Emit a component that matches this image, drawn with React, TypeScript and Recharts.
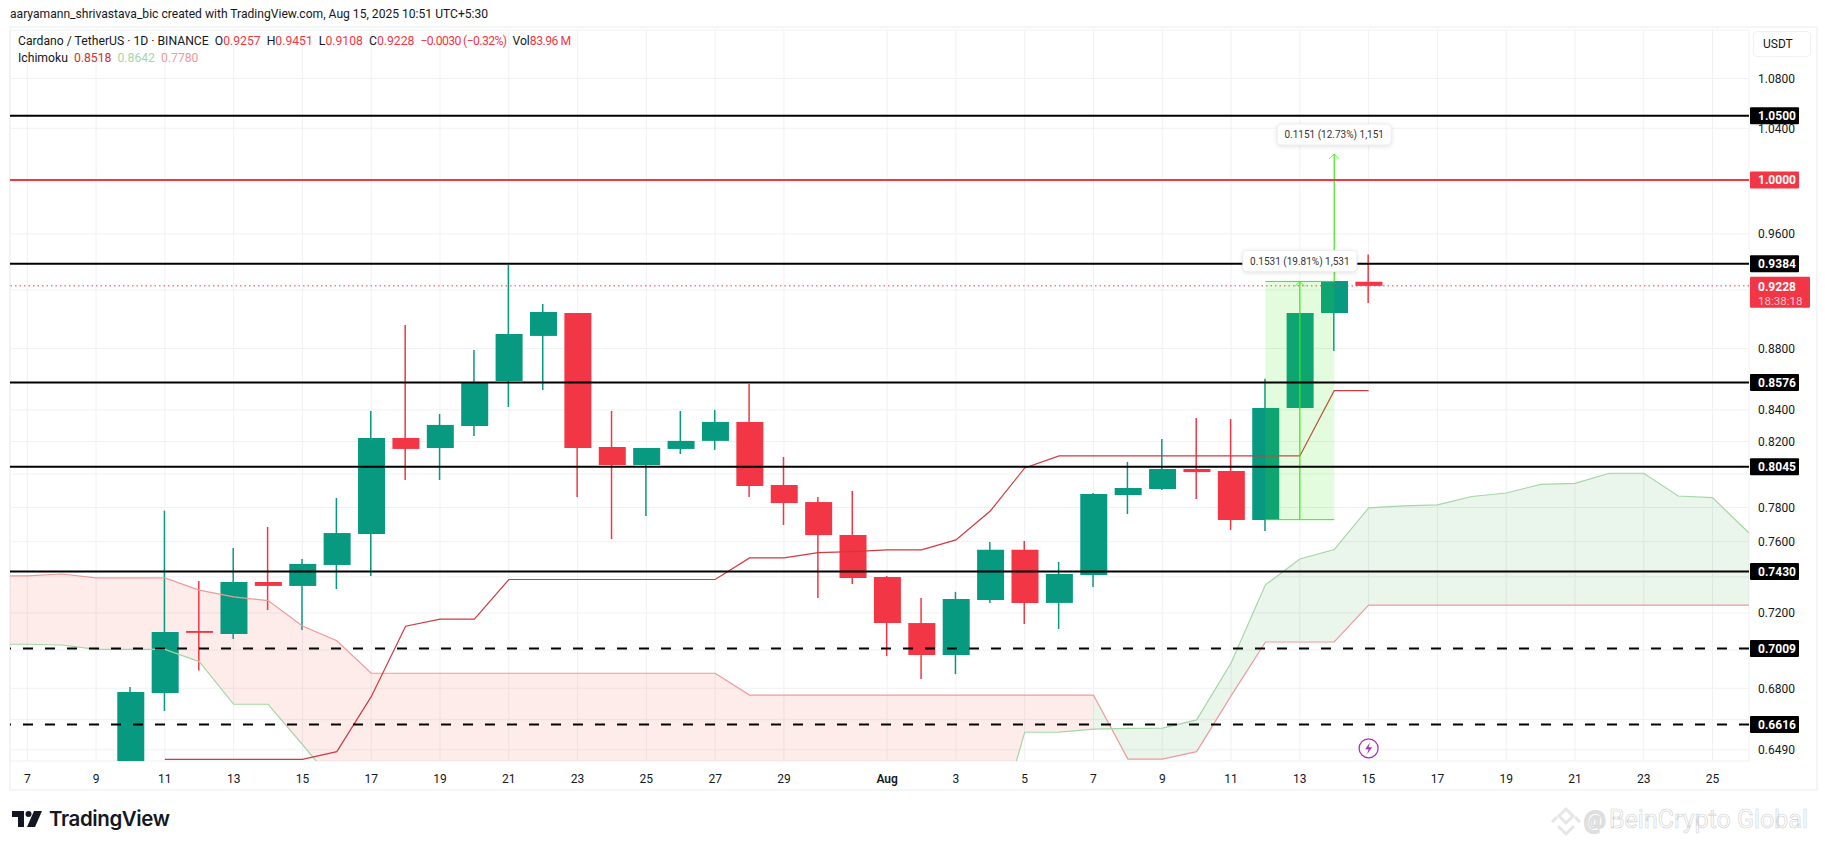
import React from "react";
import {
  ComposedChart, XAxis, YAxis, CartesianGrid, Bar, Line, Area, Cell,
  ReferenceLine, ReferenceDot,
} from "recharts";

const FONT = "Roboto, 'Noto Sans', sans-serif";
const GREEN = "#089981";
const RED = "#F23645";
const BRIGHT = "#3FE81A";

// day index, 0 = Jul 7
const days = [-1,0,1,2,3,4,5,6,7,8,9,10,11,12,13,14,15,16,17,18,19,20,21,22,23,24,25,26,27,28,29,30,31,32,33,34,35,36,37,38,39,40,41,42,43,44,45,46,47,48,49,50,51];
const candleDays = [3,4,5,6,7,8,9,10,11,12,13,14,15,16,17,18,19,20,21,22,23,24,25,26,27,28,29,30,31,32,33,34,35,36,37,38,39];
const opens  = [0.6400,0.6776,0.7102,0.7086,0.7371,0.7349,0.7467,0.7644,0.8222,0.8160,0.8297,0.8586,0.8884,0.9040,0.8166,0.8055,0.8154,0.8204,0.8323,0.7934,0.7832,0.7638,0.7399,0.7145,0.6974,0.7271,0.7553,0.7255,0.7410,0.7874,0.7910,0.8031,0.8019,0.7726,0.8411,0.9040,0.9257];
const closes = [0.6781,0.7097,0.7092,0.7371,0.7349,0.7473,0.7650,0.8222,0.8154,0.8304,0.8574,0.8897,0.9047,0.8160,0.8055,0.8160,0.8204,0.8323,0.7928,0.7826,0.7638,0.7394,0.7145,0.6974,0.7277,0.7553,0.7255,0.7416,0.7880,0.7916,0.8031,0.8012,0.7726,0.8411,0.9040,0.9262,0.9228];
const highs  = [0.6807,0.7781,0.7377,0.7564,0.7685,0.7501,0.7856,0.8392,0.8958,0.8373,0.8790,0.9375,0.9102,0.9040,0.8392,0.8104,0.8392,0.8399,0.8566,0.8104,0.7862,0.7898,0.7405,0.7282,0.7316,0.7598,0.7604,0.7484,0.7886,0.8074,0.8216,0.8348,0.8342,0.8600,0.9040,0.9262,0.9451];
const lows   = [0.6300,0.6684,0.6892,0.7059,0.7216,0.7108,0.7332,0.7405,0.7964,0.7964,0.8235,0.8418,0.8527,0.7862,0.7615,0.7750,0.8123,0.8148,0.7862,0.7697,0.7282,0.7360,0.6968,0.6848,0.6874,0.7255,0.7140,0.7113,0.7343,0.7761,0.7904,0.7850,0.7668,0.7662,0.8411,0.8783,0.9108];

const baseLineDays = [4,5,6,7,8,9,10,11,12,13,14,15,16,17,18,19,20,21,22,23,24,25,26,27,28,29,30,31,32,33,34,35,36,37,38,39];
const baseLine = [0.6443,0.6443,0.6443,0.6443,0.6443,0.6481,0.6757,0.7128,0.7166,0.7166,0.7385,0.7385,0.7385,0.7385,0.7385,0.7385,0.7385,0.7507,0.7507,0.7537,0.7543,0.7553,0.7553,0.7610,0.7779,0.8037,0.8111,0.8111,0.8111,0.8111,0.8111,0.8111,0.8111,0.8111,0.8523,0.8523];

// Leading spans, one value per entry of `days`
const spanA = [0.7031,0.7031,0.7027,0.7004,0.7004,0.7004,0.6939,0.6718,0.6718,0.6516,0.6314,0.6180,0.6100,0.6050,0.6006,0.6006,0.6006,0.6006,0.6006,0.6006,0.6006,0.6006,0.6006,0.6006,0.6006,0.6006,0.6006,0.6006,0.6006,0.6006,0.6577,0.6578,0.6593,0.6596,0.6598,0.6639,0.6932,0.7355,0.7501,0.7555,0.7797,0.7809,0.7815,0.7865,0.7886,0.7938,0.7944,0.8005,0.8005,0.7868,0.7858,0.7662,0.7495];
const spanB = [0.7405,0.7405,0.7416,0.7394,0.7394,0.7394,0.7326,0.7288,0.7268,0.7129,0.7050,0.6878,0.6878,0.6878,0.6878,0.6878,0.6878,0.6878,0.6878,0.6878,0.6878,0.6878,0.6765,0.6765,0.6765,0.6765,0.6765,0.6765,0.6765,0.6765,0.6765,0.6765,0.6765,0.6444,0.6444,0.6481,0.6761,0.7043,0.7043,0.7043,0.7243,0.7243,0.7243,0.7243,0.7243,0.7243,0.7243,0.7243,0.7243,0.7243,0.7243,0.7243,0.7243];
const cloudSwitchDay = 31;

const xTickDays = [0,2,4,6,8,10,12,14,16,18,20,22,25,27,29,31,33,35,37,39,41,43,45,47,49];
const xTickLabels = ["7","9","11","13","15","17","19","21","23","25","27","29","Aug","3","5","7","9","11","13","15","17","19","21","23","25"];
const yTicks = [1.08,1.04,1.0,0.96,0.92,0.88,0.84,0.82,0.8,0.78,0.76,0.74,0.72,0.7,0.68,0.664,0.649];
const hiddenTicks = [1.0,0.92,0.8,0.74,0.7,0.664];

const solidLevels = [1.05,0.9384,0.8576,0.8045,0.743];
const dashedLevels = [0.7009,0.6616];
const redLevel = 1.0;
const lastPrice = 0.9228;
const countdown = "18:38:18";

const measureBox = { from: 36, mid: 37, to: 38, low: 0.7728, high: 0.9259, label: "0.1531 (19.81%) 1,531" };
const measureUp = { at: 38, low: 0.9259, high: 1.0199, label: "0.1151 (12.73%) 1,151" };
const eventDay = 39;
const eventPrice = 0.6497;

const data = days.map((d, k) => {
  const c = candleDays.indexOf(d);
  const b = baseLineDays.indexOf(d);
  const a = spanA[k], s = spanB[k];
  return {
    d,
    wick: c >= 0 ? [lows[c], highs[c]] : null,
    body: c >= 0 ? [opens[c], closes[c]] : null,
    up: c >= 0 ? closes[c] >= opens[c] : false,
    base: b >= 0 ? baseLine[b] : null,
    spanA: a,
    spanB: s,
    redCloud: d <= cloudSwitchDay ? [a, s] : null,
    greenCloud: d >= cloudSwitchDay ? [s, a] : null,
  };
});
const candleData = data;

const Pill = (value: number, bg: string) => (props: any) => {
  const vb = props.viewBox;
  const x = vb.x + vb.width + 1;
  const y = vb.y;
  return (
    <g>
      <rect x={x} y={y - 8.5} width={49} height={17} fill={bg} rx={1} />
      <text x={x + 8} y={y + 4.5} fill="#fff" fontSize={12} fontWeight={700} fontFamily={FONT}>{value.toFixed(4)}</text>
    </g>
  );
};

const PricePill = (props: any) => {
  const vb = props.viewBox;
  const x = vb.x + vb.width + 1;
  const y = vb.y;
  return (
    <g>
      <rect x={x} y={y - 9} width={60} height={31} fill={RED} rx={1} />
      <text x={x + 8} y={y + 5} fill="#fff" fontSize={12} fontWeight={700} fontFamily={FONT}>{lastPrice.toFixed(4)}</text>
      <text x={x + 8} y={y + 19} fill="#fbc5cb" fontSize={11.5} fontFamily={FONT}>{countdown}</text>
    </g>
  );
};

const Chevron = (props: any) => (
  <path d={`M${props.cx - 5} ${props.cy + 5}L${props.cx} ${props.cy}L${props.cx + 5} ${props.cy + 5}`} fill="none" stroke={BRIGHT} strokeWidth={1} opacity={0.8} />
);

const BoxLabel = (text: string, w: number, dy: number) => (props: any) => (
  <g>
    <rect x={props.cx - w / 2} y={props.cy + dy} width={w} height={21} rx={4} fill="#fff" stroke="#eceef1" strokeWidth={1} style={{ filter: "drop-shadow(0 1px 2px rgba(0,0,0,.12))" }} />
    <text x={props.cx} y={props.cy + dy + 14.5} textAnchor="middle" fontSize={10} fill="#333" fontFamily={FONT}>{text}</text>
  </g>
);

const EventIcon = (props: any) => (
  <g>
    <circle cx={props.cx} cy={props.cy} r={9.5} fill="#fff" stroke="#AB30BB" strokeWidth={1.3} />
    <path d={`M${props.cx + 1.5} ${props.cy - 6}L${props.cx - 3.5} ${props.cy + 1}H${props.cx}L${props.cx - 1.5} ${props.cy + 6}L${props.cx + 3.5} ${props.cy - 1}H${props.cx}Z`} fill="#AB30BB" />
  </g>
);

const XTick = (props: any) => {
  const k = xTickDays.indexOf(props.payload.value);
  return (
    <text x={props.x} y={props.y + 14} textAnchor="middle" fontSize={12} fill="#131722" fontFamily={FONT} fontWeight={k === 12 ? 600 : 400}>{xTickLabels[k]}</text>
  );
};

const YTick = (props: any) => {
  if (hiddenTicks.includes(props.payload.value)) return <g />;
  return (
    <text x={1758} y={props.y + 4.5} fontSize={12} fill="#131722" fontFamily={FONT}>{props.payload.value.toFixed(4)}</text>
  );
};

const abs = (s: React.CSSProperties): React.CSSProperties => ({ position: "absolute", whiteSpace: "pre", fontFamily: FONT, ...s });

export default function App() {
  return (
    <div style={{ position: "absolute", left: 0, top: 0, width: 1825, height: 849, background: "#fff", overflow: "hidden" }}>
      <div style={abs({ left: 10, top: 7, fontSize: 12.1, color: "#131722" })}>aaryamann_shrivastava_bic created with TradingView.com, Aug 15, 2025 10:51 UTC+5:30</div>
      <div style={{ position: "absolute", left: 9, top: 26, width: 1805, height: 761, border: "2px solid #f4f5f7", boxSizing: "content-box" }} />
      <div style={{ position: "absolute", left: 0, top: 0 }}>
        <ComposedChart width={1825} height={849} data={candleData} margin={{ top: 30, left: 10, right: 16, bottom: 60 }}>
          <CartesianGrid stroke="#eff1f4" strokeWidth={1} xAxisId="a" yAxisId="p" />
          <XAxis xAxisId="a" dataKey="d" type="number" domain={[-0.503, 50.06]} allowDataOverflow ticks={xTickDays} interval={0} tick={<XTick />} axisLine={false} tickLine={false} height={28} />
          <XAxis xAxisId="b" dataKey="d" type="number" domain={[-0.503, 50.06]} allowDataOverflow hide />
          <YAxis yAxisId="p" orientation="right" scale="log" domain={[0.6435, 1.1205]} allowDataOverflow ticks={yTicks} interval={0} tick={<YTick />} axisLine={false} tickLine={false} width={60} />
          <Area xAxisId="a" yAxisId="p" dataKey="redCloud" stroke="none" fill="#f44336" fillOpacity={0.1} isAnimationActive={false} connectNulls={false} />
          <Area xAxisId="a" yAxisId="p" dataKey="greenCloud" stroke="none" fill="#43a047" fillOpacity={0.11} isAnimationActive={false} connectNulls={false} />
          <Line xAxisId="a" yAxisId="p" dataKey="spanB" stroke="#EF9A9A" strokeWidth={1.2} dot={false} isAnimationActive={false} />
          <Line xAxisId="a" yAxisId="p" dataKey="spanA" stroke="#A5D6A7" strokeWidth={1.2} dot={false} isAnimationActive={false} />
          <ReferenceLine xAxisId="a" yAxisId="p" y={lastPrice} stroke={RED} strokeWidth={1} strokeDasharray="1.5 3" label={<PricePill />} />
          <Bar xAxisId="a" yAxisId="p" dataKey="wick" barSize={1.5} isAnimationActive={false}>
            {candleData.map((r, k) => <Cell key={k} fill={r.up ? GREEN : RED} />)}
          </Bar>
          <Bar xAxisId="b" yAxisId="p" dataKey="body" barSize={27} isAnimationActive={false}>
            {candleData.map((r, k) => <Cell key={k} fill={r.up ? GREEN : RED} />)}
          </Bar>
          <Line xAxisId="a" yAxisId="p" dataKey="base" stroke="#CF3A3F" strokeWidth={1.2} dot={false} isAnimationActive={false} connectNulls={false} />
          <ReferenceLine xAxisId="a" yAxisId="p" segment={[{ x: measureBox.mid, y: measureBox.low }, { x: measureBox.mid, y: measureBox.high }]} stroke={BRIGHT} strokeOpacity={0.15} strokeWidth={69} />
          <ReferenceLine xAxisId="a" yAxisId="p" segment={[{ x: measureBox.from, y: measureBox.high }, { x: measureBox.to, y: measureBox.high }]} stroke={BRIGHT} strokeWidth={1} />
          <ReferenceLine xAxisId="a" yAxisId="p" segment={[{ x: measureBox.from, y: measureBox.low }, { x: measureBox.to, y: measureBox.low }]} stroke={BRIGHT} strokeWidth={1} />
          <ReferenceLine xAxisId="a" yAxisId="p" segment={[{ x: measureBox.mid, y: measureBox.low }, { x: measureBox.mid, y: measureBox.high }]} stroke={BRIGHT} strokeWidth={1.2} />
          <ReferenceLine xAxisId="a" yAxisId="p" segment={[{ x: measureUp.at, y: measureUp.low }, { x: measureUp.at, y: measureUp.high }]} stroke={BRIGHT} strokeWidth={1.2} />
          {solidLevels.map((v) => (
            <ReferenceLine key={v} xAxisId="a" yAxisId="p" y={v} stroke="#000" strokeWidth={2} label={Pill(v, "#000") as any} />
          ))}
          {dashedLevels.map((v) => (
            <ReferenceLine key={v} xAxisId="a" yAxisId="p" y={v} stroke="#000" strokeWidth={2} strokeDasharray="10 12" label={Pill(v, "#000") as any} />
          ))}
          <ReferenceLine xAxisId="a" yAxisId="p" y={redLevel} stroke={RED} strokeWidth={2} label={Pill(redLevel, RED) as any} />
          <ReferenceDot xAxisId="a" yAxisId="p" x={measureBox.mid} y={measureBox.high} shape={Chevron as any} />
          <ReferenceDot xAxisId="a" yAxisId="p" x={measureUp.at} y={measureUp.high} shape={Chevron as any} />
          <ReferenceDot xAxisId="a" yAxisId="p" x={measureUp.at} y={measureUp.high} shape={BoxLabel(measureUp.label, 114, -30) as any} />
          <ReferenceDot xAxisId="a" yAxisId="p" x={measureBox.mid} y={measureBox.high} shape={BoxLabel(measureBox.label, 114, -31) as any} />
          <ReferenceDot xAxisId="a" yAxisId="p" x={eventDay} y={eventPrice} shape={EventIcon as any} />
        </ComposedChart>
      </div>
      <div style={abs({ left: 18, top: 34, fontSize: 12.2, color: "#131722" })}>
        {"Cardano / TetherUS · 1D · BINANCE  O"}<span style={{ color: RED }}>0.9257</span>{"  H"}<span style={{ color: RED }}>0.9451</span>{"  L"}<span style={{ color: RED }}>0.9108</span>{"  C"}<span style={{ color: RED }}>0.9228</span>{"  "}<span style={{ color: RED, letterSpacing: -0.6 }}>−0.0030 (−0.32%)</span>{"  Vol"}<span style={{ color: RED, letterSpacing: -0.5 }}>83.96 M</span>
      </div>
      <div style={abs({ left: 18, top: 51, fontSize: 12.2, color: "#131722" })}>
        {"Ichimoku  "}<span style={{ color: "#D32F2F" }}>0.8518</span>{"  "}<span style={{ color: "#A5D6A7" }}>0.8642</span>{"  "}<span style={{ color: "#EF9A9A" }}>0.7780</span>
      </div>
      <div style={abs({ left: 1753, top: 31, width: 58, height: 26, boxSizing: "border-box", border: "1px solid #f0f1f4", borderRadius: 4, fontSize: 12, color: "#131722", padding: "5px 0 0 9px" })}>USDT</div>
      <svg style={{ position: "absolute", left: 12, top: 811 }} width="32" height="17" viewBox="0 0 32 17">
        <path d="M0 0H12V16H6V6H0Z" fill="#131722" />
        <circle cx="16.5" cy="3" r="3" fill="#131722" />
        <path d="M22 0H30L23 16H15Z" fill="#131722" />
      </svg>
      <div style={abs({ left: 49, top: 806, fontSize: 20.5, fontWeight: 600, color: "#131722", fontFamily: "Inter, Roboto, sans-serif", letterSpacing: -0.4 })}>TradingView</div>
      <svg style={{ position: "absolute", left: 1550, top: 806 }} width="32" height="32" viewBox="0 0 32 32">
        <g fill="none" stroke="#e6e6e6" strokeWidth="3">
          <path d="M16 3L23 10L16 17L9 10Z" />
          <path d="M2 16L7 11M30 16L25 11" />
          <path d="M8 20L16 28L24 20" />
        </g>
      </svg>
      <div style={abs({ left: 1584, top: 806, fontSize: 24, color: "#fff", fontFamily: "Roboto, sans-serif", WebkitTextStroke: "2px #dedede", fontWeight: 700 })}>@</div>
      <div style={abs({ left: 1609, top: 805, fontSize: 25, color: "#fff", fontFamily: "Roboto, sans-serif", WebkitTextStroke: "0.6px #cfcfcf" })}>BeinCrypto Global</div>
    </div>
  );
}
